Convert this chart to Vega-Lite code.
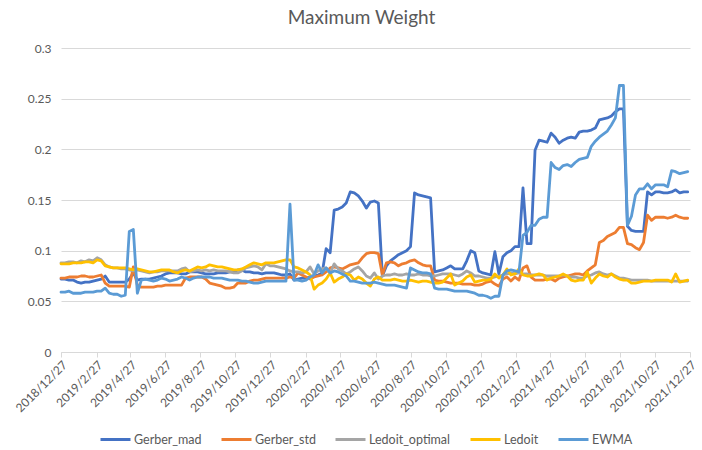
{
"$schema": "https://vega.github.io/schema/vega-lite/v6.json",
"width": 629, "height": 304,
"autosize": {"type": "none"},
"padding": {"left": 61, "top": 48, "right": 12, "bottom": 98},
"background": "white",
"title": {"text": "Maximum Weight", "fontSize": 19, "font": "Lato", "fontWeight": "normal", "color": "#595959", "anchor": "middle", "offset": 14, "dx": -14},
"config": {"view": {"stroke": null}, "font": "Lato"},
"data": {"values": [
{"d":"2018-12-27","Gerber_mad":0.072,"Gerber_std":0.073,"Ledoit_optimal":0.088,"Ledoit":0.087,"EWMA":0.059},
{"d":"2019-01-03","Gerber_mad":0.072,"Gerber_std":0.073,"Ledoit_optimal":0.088,"Ledoit":0.087,"EWMA":0.059},
{"d":"2019-01-10","Gerber_mad":0.071,"Gerber_std":0.074,"Ledoit_optimal":0.089,"Ledoit":0.087,"EWMA":0.060},
{"d":"2019-01-17","Gerber_mad":0.071,"Gerber_std":0.074,"Ledoit_optimal":0.089,"Ledoit":0.088,"EWMA":0.058},
{"d":"2019-01-24","Gerber_mad":0.069,"Gerber_std":0.074,"Ledoit_optimal":0.088,"Ledoit":0.088,"EWMA":0.058},
{"d":"2019-01-31","Gerber_mad":0.068,"Gerber_std":0.075,"Ledoit_optimal":0.090,"Ledoit":0.088,"EWMA":0.058},
{"d":"2019-02-07","Gerber_mad":0.069,"Gerber_std":0.075,"Ledoit_optimal":0.089,"Ledoit":0.089,"EWMA":0.059},
{"d":"2019-02-14","Gerber_mad":0.069,"Gerber_std":0.074,"Ledoit_optimal":0.091,"Ledoit":0.089,"EWMA":0.059},
{"d":"2019-02-21","Gerber_mad":0.070,"Gerber_std":0.074,"Ledoit_optimal":0.090,"Ledoit":0.088,"EWMA":0.059},
{"d":"2019-02-28","Gerber_mad":0.071,"Gerber_std":0.075,"Ledoit_optimal":0.093,"Ledoit":0.091,"EWMA":0.060},
{"d":"2019-03-07","Gerber_mad":0.072,"Gerber_std":0.076,"Ledoit_optimal":0.091,"Ledoit":0.090,"EWMA":0.060},
{"d":"2019-03-14","Gerber_mad":0.075,"Gerber_std":0.068,"Ledoit_optimal":0.086,"Ledoit":0.085,"EWMA":0.063},
{"d":"2019-03-21","Gerber_mad":0.069,"Gerber_std":0.065,"Ledoit_optimal":0.084,"Ledoit":0.084,"EWMA":0.058},
{"d":"2019-03-28","Gerber_mad":0.069,"Gerber_std":0.065,"Ledoit_optimal":0.083,"Ledoit":0.083,"EWMA":0.057},
{"d":"2019-04-04","Gerber_mad":0.069,"Gerber_std":0.065,"Ledoit_optimal":0.083,"Ledoit":0.083,"EWMA":0.057},
{"d":"2019-04-11","Gerber_mad":0.069,"Gerber_std":0.065,"Ledoit_optimal":0.082,"Ledoit":0.083,"EWMA":0.055},
{"d":"2019-04-18","Gerber_mad":0.069,"Gerber_std":0.065,"Ledoit_optimal":0.082,"Ledoit":0.083,"EWMA":0.056},
{"d":"2019-04-25","Gerber_mad":0.072,"Gerber_std":0.064,"Ledoit_optimal":0.081,"Ledoit":0.082,"EWMA":0.119},
{"d":"2019-05-02","Gerber_mad":0.078,"Gerber_std":0.084,"Ledoit_optimal":0.080,"Ledoit":0.081,"EWMA":0.121},
{"d":"2019-05-09","Gerber_mad":0.071,"Gerber_std":0.066,"Ledoit_optimal":0.081,"Ledoit":0.082,"EWMA":0.058},
{"d":"2019-05-16","Gerber_mad":0.072,"Gerber_std":0.064,"Ledoit_optimal":0.080,"Ledoit":0.081,"EWMA":0.071},
{"d":"2019-05-23","Gerber_mad":0.072,"Gerber_std":0.064,"Ledoit_optimal":0.079,"Ledoit":0.080,"EWMA":0.072},
{"d":"2019-05-30","Gerber_mad":0.072,"Gerber_std":0.064,"Ledoit_optimal":0.078,"Ledoit":0.079,"EWMA":0.071},
{"d":"2019-06-06","Gerber_mad":0.073,"Gerber_std":0.064,"Ledoit_optimal":0.079,"Ledoit":0.079,"EWMA":0.070},
{"d":"2019-06-13","Gerber_mad":0.074,"Gerber_std":0.065,"Ledoit_optimal":0.079,"Ledoit":0.080,"EWMA":0.071},
{"d":"2019-06-20","Gerber_mad":0.075,"Gerber_std":0.065,"Ledoit_optimal":0.080,"Ledoit":0.081,"EWMA":0.073},
{"d":"2019-06-27","Gerber_mad":0.077,"Gerber_std":0.066,"Ledoit_optimal":0.080,"Ledoit":0.081,"EWMA":0.072},
{"d":"2019-07-04","Gerber_mad":0.078,"Gerber_std":0.066,"Ledoit_optimal":0.080,"Ledoit":0.081,"EWMA":0.070},
{"d":"2019-07-11","Gerber_mad":0.078,"Gerber_std":0.066,"Ledoit_optimal":0.080,"Ledoit":0.079,"EWMA":0.071},
{"d":"2019-07-18","Gerber_mad":0.078,"Gerber_std":0.066,"Ledoit_optimal":0.080,"Ledoit":0.078,"EWMA":0.072},
{"d":"2019-07-25","Gerber_mad":0.077,"Gerber_std":0.066,"Ledoit_optimal":0.082,"Ledoit":0.080,"EWMA":0.074},
{"d":"2019-08-01","Gerber_mad":0.077,"Gerber_std":0.073,"Ledoit_optimal":0.083,"Ledoit":0.081,"EWMA":0.073},
{"d":"2019-08-08","Gerber_mad":0.079,"Gerber_std":0.074,"Ledoit_optimal":0.079,"Ledoit":0.080,"EWMA":0.071},
{"d":"2019-08-15","Gerber_mad":0.079,"Gerber_std":0.074,"Ledoit_optimal":0.080,"Ledoit":0.082,"EWMA":0.073},
{"d":"2019-08-22","Gerber_mad":0.079,"Gerber_std":0.074,"Ledoit_optimal":0.081,"Ledoit":0.084,"EWMA":0.074},
{"d":"2019-08-29","Gerber_mad":0.078,"Gerber_std":0.074,"Ledoit_optimal":0.080,"Ledoit":0.083,"EWMA":0.074},
{"d":"2019-09-05","Gerber_mad":0.077,"Gerber_std":0.072,"Ledoit_optimal":0.081,"Ledoit":0.084,"EWMA":0.074},
{"d":"2019-09-12","Gerber_mad":0.077,"Gerber_std":0.068,"Ledoit_optimal":0.080,"Ledoit":0.086,"EWMA":0.074},
{"d":"2019-09-19","Gerber_mad":0.077,"Gerber_std":0.067,"Ledoit_optimal":0.081,"Ledoit":0.085,"EWMA":0.073},
{"d":"2019-09-26","Gerber_mad":0.078,"Gerber_std":0.066,"Ledoit_optimal":0.080,"Ledoit":0.084,"EWMA":0.073},
{"d":"2019-10-03","Gerber_mad":0.078,"Gerber_std":0.065,"Ledoit_optimal":0.080,"Ledoit":0.084,"EWMA":0.073},
{"d":"2019-10-10","Gerber_mad":0.078,"Gerber_std":0.063,"Ledoit_optimal":0.080,"Ledoit":0.083,"EWMA":0.072},
{"d":"2019-10-17","Gerber_mad":0.079,"Gerber_std":0.063,"Ledoit_optimal":0.079,"Ledoit":0.082,"EWMA":0.071},
{"d":"2019-10-24","Gerber_mad":0.079,"Gerber_std":0.064,"Ledoit_optimal":0.078,"Ledoit":0.081,"EWMA":0.071},
{"d":"2019-10-31","Gerber_mad":0.081,"Gerber_std":0.068,"Ledoit_optimal":0.078,"Ledoit":0.081,"EWMA":0.071},
{"d":"2019-11-07","Gerber_mad":0.081,"Gerber_std":0.068,"Ledoit_optimal":0.080,"Ledoit":0.082,"EWMA":0.070},
{"d":"2019-11-14","Gerber_mad":0.079,"Gerber_std":0.068,"Ledoit_optimal":0.083,"Ledoit":0.084,"EWMA":0.070},
{"d":"2019-11-21","Gerber_mad":0.079,"Gerber_std":0.070,"Ledoit_optimal":0.084,"Ledoit":0.086,"EWMA":0.069},
{"d":"2019-11-28","Gerber_mad":0.078,"Gerber_std":0.071,"Ledoit_optimal":0.085,"Ledoit":0.088,"EWMA":0.068},
{"d":"2019-12-05","Gerber_mad":0.078,"Gerber_std":0.071,"Ledoit_optimal":0.084,"Ledoit":0.087,"EWMA":0.068},
{"d":"2019-12-12","Gerber_mad":0.077,"Gerber_std":0.072,"Ledoit_optimal":0.081,"Ledoit":0.086,"EWMA":0.069},
{"d":"2019-12-19","Gerber_mad":0.078,"Gerber_std":0.073,"Ledoit_optimal":0.087,"Ledoit":0.088,"EWMA":0.070},
{"d":"2019-12-26","Gerber_mad":0.078,"Gerber_std":0.073,"Ledoit_optimal":0.085,"Ledoit":0.088,"EWMA":0.070},
{"d":"2020-01-02","Gerber_mad":0.078,"Gerber_std":0.073,"Ledoit_optimal":0.085,"Ledoit":0.088,"EWMA":0.070},
{"d":"2020-01-09","Gerber_mad":0.077,"Gerber_std":0.073,"Ledoit_optimal":0.084,"Ledoit":0.089,"EWMA":0.070},
{"d":"2020-01-16","Gerber_mad":0.076,"Gerber_std":0.073,"Ledoit_optimal":0.083,"Ledoit":0.090,"EWMA":0.070},
{"d":"2020-01-23","Gerber_mad":0.076,"Gerber_std":0.073,"Ledoit_optimal":0.082,"Ledoit":0.091,"EWMA":0.070},
{"d":"2020-01-30","Gerber_mad":0.077,"Gerber_std":0.074,"Ledoit_optimal":0.080,"Ledoit":0.091,"EWMA":0.146},
{"d":"2020-02-06","Gerber_mad":0.071,"Gerber_std":0.073,"Ledoit_optimal":0.079,"Ledoit":0.084,"EWMA":0.071},
{"d":"2020-02-13","Gerber_mad":0.072,"Gerber_std":0.078,"Ledoit_optimal":0.079,"Ledoit":0.083,"EWMA":0.071},
{"d":"2020-02-20","Gerber_mad":0.073,"Gerber_std":0.076,"Ledoit_optimal":0.078,"Ledoit":0.081,"EWMA":0.070},
{"d":"2020-02-27","Gerber_mad":0.073,"Gerber_std":0.074,"Ledoit_optimal":0.079,"Ledoit":0.079,"EWMA":0.071},
{"d":"2020-03-05","Gerber_mad":0.074,"Gerber_std":0.072,"Ledoit_optimal":0.084,"Ledoit":0.076,"EWMA":0.074},
{"d":"2020-03-12","Gerber_mad":0.075,"Gerber_std":0.074,"Ledoit_optimal":0.077,"Ledoit":0.062,"EWMA":0.076},
{"d":"2020-03-19","Gerber_mad":0.076,"Gerber_std":0.075,"Ledoit_optimal":0.080,"Ledoit":0.066,"EWMA":0.086},
{"d":"2020-03-26","Gerber_mad":0.078,"Gerber_std":0.076,"Ledoit_optimal":0.082,"Ledoit":0.068,"EWMA":0.078},
{"d":"2020-04-02","Gerber_mad":0.102,"Gerber_std":0.079,"Ledoit_optimal":0.083,"Ledoit":0.072,"EWMA":0.083},
{"d":"2020-04-09","Gerber_mad":0.098,"Gerber_std":0.083,"Ledoit_optimal":0.078,"Ledoit":0.078,"EWMA":0.078},
{"d":"2020-04-16","Gerber_mad":0.140,"Gerber_std":0.084,"Ledoit_optimal":0.087,"Ledoit":0.069,"EWMA":0.080},
{"d":"2020-04-23","Gerber_mad":0.141,"Gerber_std":0.083,"Ledoit_optimal":0.082,"Ledoit":0.072,"EWMA":0.079},
{"d":"2020-04-30","Gerber_mad":0.143,"Gerber_std":0.082,"Ledoit_optimal":0.080,"Ledoit":0.074,"EWMA":0.077},
{"d":"2020-05-07","Gerber_mad":0.147,"Gerber_std":0.084,"Ledoit_optimal":0.077,"Ledoit":0.077,"EWMA":0.075},
{"d":"2020-05-14","Gerber_mad":0.158,"Gerber_std":0.086,"Ledoit_optimal":0.079,"Ledoit":0.076,"EWMA":0.070},
{"d":"2020-05-21","Gerber_mad":0.157,"Gerber_std":0.087,"Ledoit_optimal":0.082,"Ledoit":0.071,"EWMA":0.070},
{"d":"2020-05-28","Gerber_mad":0.154,"Gerber_std":0.088,"Ledoit_optimal":0.084,"Ledoit":0.074,"EWMA":0.069},
{"d":"2020-06-04","Gerber_mad":0.149,"Gerber_std":0.093,"Ledoit_optimal":0.080,"Ledoit":0.072,"EWMA":0.068},
{"d":"2020-06-11","Gerber_mad":0.142,"Gerber_std":0.097,"Ledoit_optimal":0.075,"Ledoit":0.068,"EWMA":0.068},
{"d":"2020-06-18","Gerber_mad":0.148,"Gerber_std":0.098,"Ledoit_optimal":0.073,"Ledoit":0.065,"EWMA":0.068},
{"d":"2020-06-25","Gerber_mad":0.149,"Gerber_std":0.098,"Ledoit_optimal":0.078,"Ledoit":0.072,"EWMA":0.069},
{"d":"2020-07-02","Gerber_mad":0.147,"Gerber_std":0.097,"Ledoit_optimal":0.072,"Ledoit":0.074,"EWMA":0.068},
{"d":"2020-07-09","Gerber_mad":0.075,"Gerber_std":0.076,"Ledoit_optimal":0.075,"Ledoit":0.071,"EWMA":0.067},
{"d":"2020-07-16","Gerber_mad":0.085,"Gerber_std":0.088,"Ledoit_optimal":0.076,"Ledoit":0.071,"EWMA":0.066},
{"d":"2020-07-23","Gerber_mad":0.090,"Gerber_std":0.089,"Ledoit_optimal":0.076,"Ledoit":0.071,"EWMA":0.066},
{"d":"2020-07-30","Gerber_mad":0.093,"Gerber_std":0.088,"Ledoit_optimal":0.077,"Ledoit":0.072,"EWMA":0.066},
{"d":"2020-08-06","Gerber_mad":0.096,"Gerber_std":0.085,"Ledoit_optimal":0.076,"Ledoit":0.071,"EWMA":0.065},
{"d":"2020-08-13","Gerber_mad":0.098,"Gerber_std":0.087,"Ledoit_optimal":0.076,"Ledoit":0.070,"EWMA":0.064},
{"d":"2020-08-20","Gerber_mad":0.100,"Gerber_std":0.088,"Ledoit_optimal":0.077,"Ledoit":0.070,"EWMA":0.063},
{"d":"2020-08-27","Gerber_mad":0.104,"Gerber_std":0.090,"Ledoit_optimal":0.076,"Ledoit":0.071,"EWMA":0.083},
{"d":"2020-09-03","Gerber_mad":0.157,"Gerber_std":0.091,"Ledoit_optimal":0.076,"Ledoit":0.070,"EWMA":0.081},
{"d":"2020-09-10","Gerber_mad":0.155,"Gerber_std":0.088,"Ledoit_optimal":0.077,"Ledoit":0.069,"EWMA":0.079},
{"d":"2020-09-17","Gerber_mad":0.154,"Gerber_std":0.086,"Ledoit_optimal":0.076,"Ledoit":0.070,"EWMA":0.078},
{"d":"2020-09-24","Gerber_mad":0.153,"Gerber_std":0.085,"Ledoit_optimal":0.076,"Ledoit":0.070,"EWMA":0.078},
{"d":"2020-10-01","Gerber_mad":0.152,"Gerber_std":0.085,"Ledoit_optimal":0.075,"Ledoit":0.069,"EWMA":0.077},
{"d":"2020-10-08","Gerber_mad":0.079,"Gerber_std":0.071,"Ledoit_optimal":0.075,"Ledoit":0.068,"EWMA":0.063},
{"d":"2020-10-15","Gerber_mad":0.080,"Gerber_std":0.070,"Ledoit_optimal":0.076,"Ledoit":0.068,"EWMA":0.062},
{"d":"2020-10-22","Gerber_mad":0.081,"Gerber_std":0.070,"Ledoit_optimal":0.077,"Ledoit":0.069,"EWMA":0.062},
{"d":"2020-10-29","Gerber_mad":0.083,"Gerber_std":0.069,"Ledoit_optimal":0.077,"Ledoit":0.073,"EWMA":0.062},
{"d":"2020-11-05","Gerber_mad":0.085,"Gerber_std":0.068,"Ledoit_optimal":0.077,"Ledoit":0.077,"EWMA":0.061},
{"d":"2020-11-12","Gerber_mad":0.082,"Gerber_std":0.068,"Ledoit_optimal":0.076,"Ledoit":0.066,"EWMA":0.060},
{"d":"2020-11-19","Gerber_mad":0.082,"Gerber_std":0.068,"Ledoit_optimal":0.075,"Ledoit":0.068,"EWMA":0.060},
{"d":"2020-11-26","Gerber_mad":0.082,"Gerber_std":0.067,"Ledoit_optimal":0.077,"Ledoit":0.070,"EWMA":0.060},
{"d":"2020-12-03","Gerber_mad":0.090,"Gerber_std":0.067,"Ledoit_optimal":0.080,"Ledoit":0.074,"EWMA":0.060},
{"d":"2020-12-10","Gerber_mad":0.100,"Gerber_std":0.067,"Ledoit_optimal":0.078,"Ledoit":0.076,"EWMA":0.059},
{"d":"2020-12-17","Gerber_mad":0.098,"Gerber_std":0.066,"Ledoit_optimal":0.075,"Ledoit":0.069,"EWMA":0.058},
{"d":"2020-12-24","Gerber_mad":0.080,"Gerber_std":0.066,"Ledoit_optimal":0.075,"Ledoit":0.070,"EWMA":0.056},
{"d":"2020-12-31","Gerber_mad":0.078,"Gerber_std":0.067,"Ledoit_optimal":0.074,"Ledoit":0.071,"EWMA":0.056},
{"d":"2021-01-07","Gerber_mad":0.077,"Gerber_std":0.069,"Ledoit_optimal":0.073,"Ledoit":0.071,"EWMA":0.055},
{"d":"2021-01-14","Gerber_mad":0.076,"Gerber_std":0.070,"Ledoit_optimal":0.073,"Ledoit":0.072,"EWMA":0.053},
{"d":"2021-01-21","Gerber_mad":0.099,"Gerber_std":0.067,"Ledoit_optimal":0.074,"Ledoit":0.077,"EWMA":0.055},
{"d":"2021-01-28","Gerber_mad":0.077,"Gerber_std":0.065,"Ledoit_optimal":0.075,"Ledoit":0.073,"EWMA":0.055},
{"d":"2021-02-04","Gerber_mad":0.094,"Gerber_std":0.072,"Ledoit_optimal":0.076,"Ledoit":0.076,"EWMA":0.076},
{"d":"2021-02-11","Gerber_mad":0.098,"Gerber_std":0.074,"Ledoit_optimal":0.077,"Ledoit":0.082,"EWMA":0.080},
{"d":"2021-02-18","Gerber_mad":0.100,"Gerber_std":0.070,"Ledoit_optimal":0.078,"Ledoit":0.076,"EWMA":0.081},
{"d":"2021-02-25","Gerber_mad":0.104,"Gerber_std":0.074,"Ledoit_optimal":0.077,"Ledoit":0.077,"EWMA":0.080},
{"d":"2021-03-04","Gerber_mad":0.104,"Gerber_std":0.071,"Ledoit_optimal":0.078,"Ledoit":0.082,"EWMA":0.079},
{"d":"2021-03-11","Gerber_mad":0.162,"Gerber_std":0.083,"Ledoit_optimal":0.077,"Ledoit":0.076,"EWMA":0.115},
{"d":"2021-03-18","Gerber_mad":0.107,"Gerber_std":0.085,"Ledoit_optimal":0.077,"Ledoit":0.075,"EWMA":0.118},
{"d":"2021-03-25","Gerber_mad":0.107,"Gerber_std":0.074,"Ledoit_optimal":0.076,"Ledoit":0.075,"EWMA":0.125},
{"d":"2021-04-01","Gerber_mad":0.199,"Gerber_std":0.071,"Ledoit_optimal":0.076,"Ledoit":0.076,"EWMA":0.125},
{"d":"2021-04-08","Gerber_mad":0.209,"Gerber_std":0.071,"Ledoit_optimal":0.076,"Ledoit":0.077,"EWMA":0.131},
{"d":"2021-04-15","Gerber_mad":0.208,"Gerber_std":0.071,"Ledoit_optimal":0.076,"Ledoit":0.076,"EWMA":0.133},
{"d":"2021-04-22","Gerber_mad":0.207,"Gerber_std":0.072,"Ledoit_optimal":0.075,"Ledoit":0.071,"EWMA":0.133},
{"d":"2021-04-29","Gerber_mad":0.216,"Gerber_std":0.072,"Ledoit_optimal":0.075,"Ledoit":0.073,"EWMA":0.187},
{"d":"2021-05-06","Gerber_mad":0.212,"Gerber_std":0.070,"Ledoit_optimal":0.075,"Ledoit":0.074,"EWMA":0.182},
{"d":"2021-05-13","Gerber_mad":0.206,"Gerber_std":0.073,"Ledoit_optimal":0.075,"Ledoit":0.075,"EWMA":0.180},
{"d":"2021-05-20","Gerber_mad":0.209,"Gerber_std":0.074,"Ledoit_optimal":0.076,"Ledoit":0.077,"EWMA":0.184},
{"d":"2021-05-27","Gerber_mad":0.211,"Gerber_std":0.075,"Ledoit_optimal":0.075,"Ledoit":0.075,"EWMA":0.185},
{"d":"2021-06-03","Gerber_mad":0.212,"Gerber_std":0.076,"Ledoit_optimal":0.074,"Ledoit":0.071,"EWMA":0.183},
{"d":"2021-06-10","Gerber_mad":0.211,"Gerber_std":0.077,"Ledoit_optimal":0.074,"Ledoit":0.070,"EWMA":0.187},
{"d":"2021-06-17","Gerber_mad":0.217,"Gerber_std":0.077,"Ledoit_optimal":0.073,"Ledoit":0.071,"EWMA":0.190},
{"d":"2021-06-24","Gerber_mad":0.218,"Gerber_std":0.076,"Ledoit_optimal":0.073,"Ledoit":0.071,"EWMA":0.191},
{"d":"2021-07-01","Gerber_mad":0.218,"Gerber_std":0.080,"Ledoit_optimal":0.075,"Ledoit":0.079,"EWMA":0.192},
{"d":"2021-07-08","Gerber_mad":0.219,"Gerber_std":0.083,"Ledoit_optimal":0.076,"Ledoit":0.068,"EWMA":0.203},
{"d":"2021-07-15","Gerber_mad":0.221,"Gerber_std":0.086,"Ledoit_optimal":0.078,"Ledoit":0.073,"EWMA":0.208},
{"d":"2021-07-22","Gerber_mad":0.229,"Gerber_std":0.108,"Ledoit_optimal":0.079,"Ledoit":0.077,"EWMA":0.212},
{"d":"2021-07-29","Gerber_mad":0.230,"Gerber_std":0.110,"Ledoit_optimal":0.077,"Ledoit":0.075,"EWMA":0.215},
{"d":"2021-08-05","Gerber_mad":0.231,"Gerber_std":0.114,"Ledoit_optimal":0.076,"Ledoit":0.074,"EWMA":0.218},
{"d":"2021-08-12","Gerber_mad":0.233,"Gerber_std":0.116,"Ledoit_optimal":0.077,"Ledoit":0.077,"EWMA":0.224},
{"d":"2021-08-19","Gerber_mad":0.237,"Gerber_std":0.118,"Ledoit_optimal":0.075,"Ledoit":0.074,"EWMA":0.231},
{"d":"2021-08-26","Gerber_mad":0.240,"Gerber_std":0.123,"Ledoit_optimal":0.073,"Ledoit":0.072,"EWMA":0.263},
{"d":"2021-09-02","Gerber_mad":0.240,"Gerber_std":0.123,"Ledoit_optimal":0.073,"Ledoit":0.071,"EWMA":0.263},
{"d":"2021-09-09","Gerber_mad":0.124,"Gerber_std":0.107,"Ledoit_optimal":0.072,"Ledoit":0.071,"EWMA":0.125},
{"d":"2021-09-16","Gerber_mad":0.120,"Gerber_std":0.106,"Ledoit_optimal":0.071,"Ledoit":0.068,"EWMA":0.134},
{"d":"2021-09-23","Gerber_mad":0.119,"Gerber_std":0.103,"Ledoit_optimal":0.071,"Ledoit":0.068,"EWMA":0.155},
{"d":"2021-09-30","Gerber_mad":0.119,"Gerber_std":0.101,"Ledoit_optimal":0.071,"Ledoit":0.069,"EWMA":0.161},
{"d":"2021-10-07","Gerber_mad":0.119,"Gerber_std":0.108,"Ledoit_optimal":0.071,"Ledoit":0.070,"EWMA":0.161},
{"d":"2021-10-14","Gerber_mad":0.158,"Gerber_std":0.135,"Ledoit_optimal":0.071,"Ledoit":0.070,"EWMA":0.166},
{"d":"2021-10-21","Gerber_mad":0.155,"Gerber_std":0.130,"Ledoit_optimal":0.070,"Ledoit":0.070,"EWMA":0.161},
{"d":"2021-10-28","Gerber_mad":0.158,"Gerber_std":0.133,"Ledoit_optimal":0.070,"Ledoit":0.071,"EWMA":0.165},
{"d":"2021-11-04","Gerber_mad":0.158,"Gerber_std":0.133,"Ledoit_optimal":0.070,"Ledoit":0.071,"EWMA":0.165},
{"d":"2021-11-11","Gerber_mad":0.157,"Gerber_std":0.133,"Ledoit_optimal":0.070,"Ledoit":0.071,"EWMA":0.165},
{"d":"2021-11-18","Gerber_mad":0.157,"Gerber_std":0.132,"Ledoit_optimal":0.070,"Ledoit":0.071,"EWMA":0.163},
{"d":"2021-11-25","Gerber_mad":0.158,"Gerber_std":0.133,"Ledoit_optimal":0.070,"Ledoit":0.069,"EWMA":0.179},
{"d":"2021-12-02","Gerber_mad":0.160,"Gerber_std":0.135,"Ledoit_optimal":0.070,"Ledoit":0.077,"EWMA":0.178},
{"d":"2021-12-09","Gerber_mad":0.157,"Gerber_std":0.133,"Ledoit_optimal":0.070,"Ledoit":0.069,"EWMA":0.176},
{"d":"2021-12-16","Gerber_mad":0.158,"Gerber_std":0.132,"Ledoit_optimal":0.070,"Ledoit":0.070,"EWMA":0.177},
{"d":"2021-12-23","Gerber_mad":0.158,"Gerber_std":0.132,"Ledoit_optimal":0.070,"Ledoit":0.071,"EWMA":0.178}
]},
"transform": [{"fold": ["Gerber_mad", "Gerber_std", "Ledoit_optimal", "Ledoit", "EWMA"], "as": ["series", "value"]}],
"mark": {"type": "line", "strokeWidth": 2.8, "strokeJoin": "round", "strokeCap": "round"},
"encoding": {
"x": {"field": "d", "type": "temporal",
 "scale": {"type": "utc", "domain": [{"year": 2018, "month": 12, "date": 27, "utc": true}, {"year": 2021, "month": 12, "date": 27, "utc": true}]},
 "axis": {"title": null, "grid": false, "format": "%Y/%-m/%-d", "labelAngle": -45, "labelOverlap": false, "labelFontSize": 12, "labelColor": "#595959", "domainColor": "#D9D9D9", "tickColor": "#D9D9D9", "tickSize": 5, "labelPadding": 2,
  "values": [
   {"year": 2018, "month": 12, "date": 27, "utc": true},
   {"year": 2019, "month": 2, "date": 27, "utc": true},
   {"year": 2019, "month": 4, "date": 27, "utc": true},
   {"year": 2019, "month": 6, "date": 27, "utc": true},
   {"year": 2019, "month": 8, "date": 27, "utc": true},
   {"year": 2019, "month": 10, "date": 27, "utc": true},
   {"year": 2019, "month": 12, "date": 27, "utc": true},
   {"year": 2020, "month": 2, "date": 27, "utc": true},
   {"year": 2020, "month": 4, "date": 27, "utc": true},
   {"year": 2020, "month": 6, "date": 27, "utc": true},
   {"year": 2020, "month": 8, "date": 27, "utc": true},
   {"year": 2020, "month": 10, "date": 27, "utc": true},
   {"year": 2020, "month": 12, "date": 27, "utc": true},
   {"year": 2021, "month": 2, "date": 27, "utc": true},
   {"year": 2021, "month": 4, "date": 27, "utc": true},
   {"year": 2021, "month": 6, "date": 27, "utc": true},
   {"year": 2021, "month": 8, "date": 27, "utc": true},
   {"year": 2021, "month": 10, "date": 27, "utc": true},
   {"year": 2021, "month": 12, "date": 27, "utc": true}]}},
"y": {"field": "value", "type": "quantitative",
 "scale": {"domain": [0, 0.3], "nice": false},
 "axis": {"title": null, "values": [0, 0.05, 0.1, 0.15, 0.2, 0.25, 0.3], "format": ".2~f", "labelFontSize": 12, "labelColor": "#595959", "domain": false, "ticks": false, "gridColor": "#D9D9D9", "labelPadding": 10}},
"color": {"field": "series", "type": "nominal",
 "scale": {"domain": ["Gerber_mad", "Gerber_std", "Ledoit_optimal", "Ledoit", "EWMA"], "range": ["#4472C4", "#ED7D31", "#A5A5A5", "#FFC000", "#5B9BD5"]},
 "legend": {"title": null, "orient": "none", "legendX": 38, "legendY": 375, "direction": "horizontal", "symbolType": "stroke", "symbolSize": 900, "symbolStrokeWidth": 3, "labelFontSize": 12.5, "labelColor": "#595959", "labelOffset": 2, "columnPadding": 13}}
}
}
